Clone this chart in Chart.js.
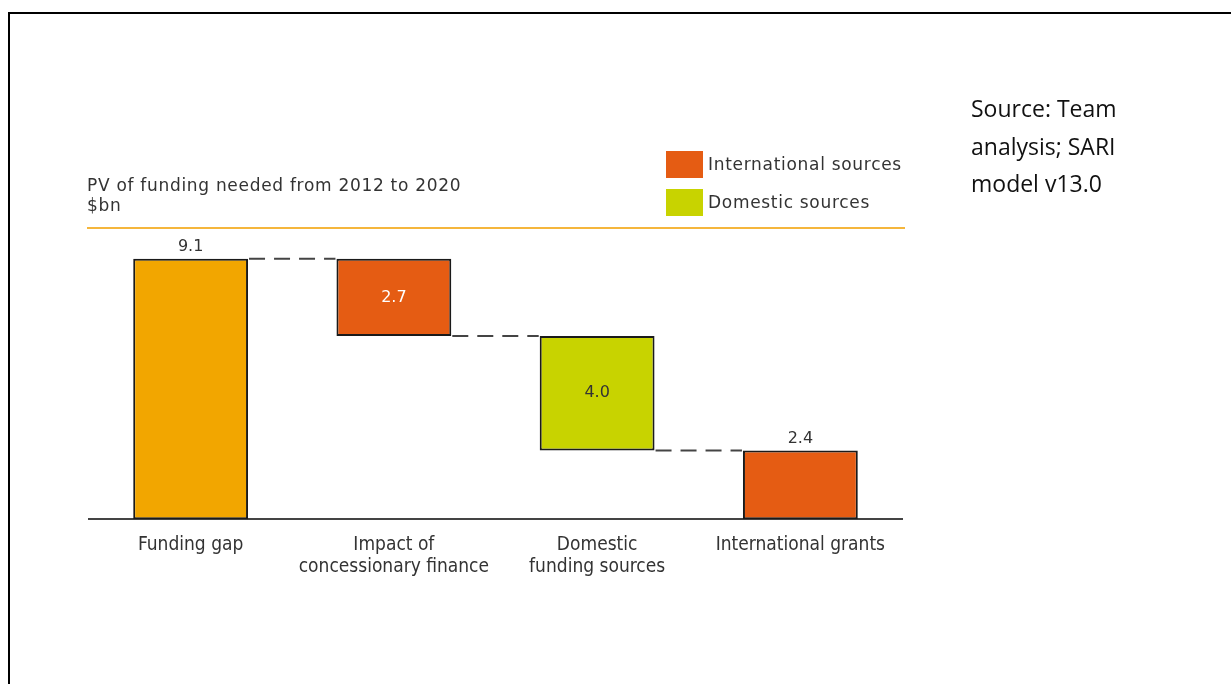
<!DOCTYPE html>
<html>
<head>
<meta charset="utf-8">
<script src="https://cdn.jsdelivr.net/npm/chart.js@4"></script>
<style>
  body { margin: 0; background: #fff; }
  #wrap { position: relative; width: 1231px; height: 684px; overflow: hidden; }
  #frame { position: absolute; left: 8px; top: 12px; right: -5px; bottom: -5px; border-top: 2px solid #000; border-left: 2px solid #000; }
  canvas { position: absolute; left: 0; top: 0; }
  .txt { position: absolute; font-family: "DejaVu Sans", sans-serif; color: #333; white-space: nowrap; }
  #title { left: 87px; top: 175px; font-size: 17px; line-height: 20px; letter-spacing: 0.7px; }
  #rule { position: absolute; left: 87px; top: 227px; width: 818px; height: 2px; background: #F5B63C; }
  .sw { position: absolute; left: 666px; width: 37px; height: 27px; }
  .lg { left: 708px; font-size: 17px; line-height: 20px; letter-spacing: 0.7px; }
  #source { position: absolute; left: 971px; top: 90px; font-family: "Open Sans", sans-serif; font-size: 23px; line-height: 37.5px; color: #111; }
</style>
</head>
<body>
<div id="wrap">
  <div id="frame"></div>
  <canvas id="grafico" width="1231" height="684"></canvas>
  <div id="title" class="txt">PV of funding needed from 2012 to 2020<br>$bn</div>
  <div id="rule"></div>
  <div class="sw" style="top:151px;background:#E55C13"></div>
  <div class="txt lg" style="top:154px">International sources</div>
  <div class="sw" style="top:189px;background:#C8D300"></div>
  <div class="txt lg" style="top:192px">Domestic sources</div>
  <div id="source">Source: Team<br>analysis; SARI<br>model v13.0</div>
</div>
<script>
// dados do gráfico (cascata)
const categorias = [['Funding gap'], ['Impact of', 'concessionary finance'], ['Domestic', 'funding sources'], ['International grants']];
const valores = [9.1, -2.7, -4.0, 2.4];   // 2.4 = total restante
const rotulos = ['9.1', '2.7', '4.0', '2.4'];
const cores = ['#F2A600', '#E55C13', '#C8D300', '#E55C13'];

// montar barras flutuantes [base, topo]
const barras = [];
let nivel = 0;
valores.forEach((v, i) => {
  if (i === 0) { barras.push([0, v]); nivel = v; }
  else if (i === valores.length - 1) { barras.push([0, v]); }
  else { barras.push([nivel + v, nivel]); nivel = nivel + v; }
});

// plugin para rótulos e linhas tracejadas
const cascataPlugin = {
  id: 'cascata',
  afterDatasetsDraw(chart) {
    const ctx = chart.ctx;
    const meta = chart.getDatasetMeta(0);
    const y = chart.scales.y;
    ctx.save();
    // linhas tracejadas entre barras
    ctx.strokeStyle = '#444';
    ctx.lineWidth = 2;
    ctx.setLineDash([16, 9]);
    for (let i = 0; i < meta.data.length - 1; i++) {
      const a = meta.data[i], b = meta.data[i + 1];
      const nivelY = y.getPixelForValue(i === 0 ? barras[i][1] : barras[i][0]);
      ctx.beginPath();
      ctx.moveTo(a.x + a.width / 2 + 1, nivelY);
      ctx.lineTo(b.x - b.width / 2 - 1, nivelY);
      ctx.stroke();
    }
    ctx.setLineDash([]);
    // rótulos
    ctx.font = '16px "DejaVu Sans", sans-serif';
    ctx.textAlign = 'center';
    ctx.textBaseline = 'middle';
    meta.data.forEach((bar, i) => {
      const topo = y.getPixelForValue(barras[i][1]);
      const base = y.getPixelForValue(barras[i][0]);
      if (i === 0 || i === meta.data.length - 1) {
        ctx.fillStyle = '#333';
        ctx.fillText(rotulos[i], bar.x, topo - 12);
      } else {
        ctx.fillStyle = i === 1 ? '#fff' : '#333';
        ctx.fillText(rotulos[i], bar.x, (topo + base) / 2);
      }
    });
    ctx.restore();
  }
};

new Chart(document.getElementById('grafico'), {
  type: 'bar',
  data: {
    labels: categorias,
    datasets: [{
      data: barras,
      backgroundColor: cores,
      borderColor: '#1a1a1a',
      borderWidth: 2,
      borderSkipped: false,
      categoryPercentage: 1,
      barPercentage: 0.565
    }]
  },
  options: {
    responsive: false,
    animation: false,
    layout: { padding: { left: 89, right: 329, top: 233, bottom: 99 } },
    plugins: { legend: { display: false }, tooltip: { enabled: false } },
    scales: {
      x: {
        grid: { display: false },
        border: { color: '#444', width: 2 },
        ticks: {
          color: '#333',
          font: { family: '"DejaVu Sans Condensed", sans-serif', size: 19, lineHeight: 1.15 },
          padding: 7,
          maxRotation: 0,
          minRotation: 0,
          autoSkip: false
        }
      },
      y: { display: false, min: 0, max: 10 }
    }
  },
  plugins: [cascataPlugin]
});
</script>
</body>
</html>
